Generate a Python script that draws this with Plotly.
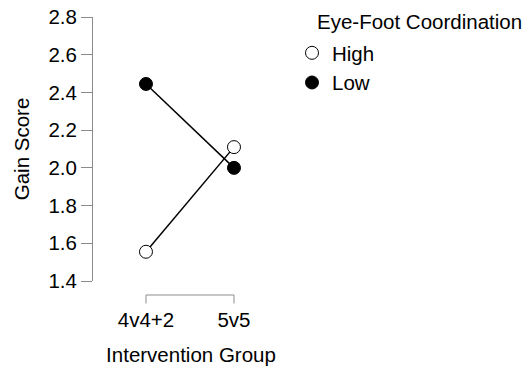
import plotly.graph_objects as go

groups = ["4v4+2", "5v5"]
high = [1.555, 2.11]
low = [2.445, 2.0]
y_ticks = [1.4, 1.6, 1.8, 2.0, 2.2, 2.4, 2.6, 2.8]
y_ticktext = ["1.4", "1.6", "1.8", "2.0", "2.2", "2.4", "2.6", "2.8"]
series = [("High", high, "white"), ("Low", low, "black")]

FONT = "Liberation Sans, Arial, sans-serif"
FS = 20.5
GRAY = "#8c8c8c"

fig = go.Figure()
# connecting lines (not in legend)
for name, vals, fill in series:
    fig.add_trace(go.Scatter(
        x=groups, y=vals, mode="lines", showlegend=False, hoverinfo="skip",
        line=dict(color="black", width=1.5), cliponaxis=False,
    ))
# points (legend shows points only)
for name, vals, fill in series:
    fig.add_trace(go.Scatter(
        x=groups, y=vals, name=name, mode="markers",
        marker=dict(symbol="circle", size=13, color=fill, line=dict(color="black", width=1)),
        cliponaxis=False,
    ))

# bracket-style x axis line (range frame)
fig.add_shape(type="line", xref="x", yref="paper", x0=groups[0], x1=groups[-1],
              y0=-0.053, y1=-0.053, line=dict(color=GRAY, width=1))
for g in groups:
    fig.add_shape(type="line", xref="x", yref="paper", x0=g, x1=g,
                  y0=-0.053, y1=-0.085, line=dict(color=GRAY, width=1))

# legend title
fig.add_annotation(text="Eye-Foot Coordination", xref="paper", yref="paper",
                   x=(315 - 93) / 196, y=1 + (17 - 22) / 264, xanchor="left", yanchor="middle",
                   showarrow=False, font=dict(size=FS, color="black"))

fig.update_layout(
    width=524, height=366,
    margin=dict(l=93, r=235, t=17, b=85),
    paper_bgcolor="white", plot_bgcolor="white",
    font=dict(family=FONT, size=FS, color="black"),
    showlegend=True,
    legend=dict(
        font=dict(size=FS),
        xref="container", yref="container",
        x=292 / 524, y=1 - 33 / 366, xanchor="left", yanchor="top",
        bgcolor="rgba(0,0,0,0)", itemwidth=30, tracegroupgap=0,
    ),
    xaxis=dict(
        type="category", range=[-0.602, 1.625], automargin=False,
        showgrid=False, zeroline=False, showline=False,
        ticks="", ticklabelstandoff=24,
        tickfont=dict(size=FS),
        title=dict(text="Intervention Group", font=dict(size=FS), standoff=20),
    ),
    yaxis=dict(
        range=[1.4, 2.8], tickvals=y_ticks, ticktext=y_ticktext, automargin=False,
        showgrid=False, zeroline=False, showline=True, linecolor=GRAY, linewidth=1,
        ticks="outside", ticklen=11, tickcolor=GRAY, tickwidth=1,
        tickfont=dict(size=FS),
        title=dict(text="Gain Score", font=dict(size=FS), standoff=13),
    ),
)

fig.write_html("out.html", config={"displayModeBar": False},
               post_script="document.body.style.margin='0';")
